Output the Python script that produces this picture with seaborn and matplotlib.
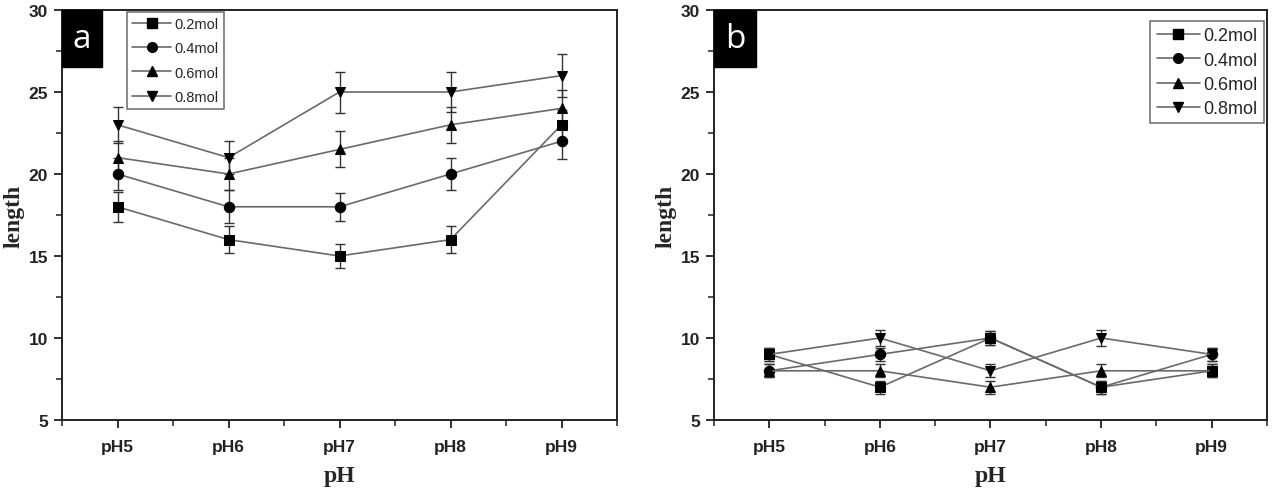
import numpy as np
import pandas as pd
import seaborn as sns
import matplotlib.pyplot as plt
from matplotlib.lines import Line2D
from matplotlib.patches import Rectangle
from matplotlib.ticker import MultipleLocator

ph_labels = ["pH5", "pH6", "pH7", "pH8", "pH9"]
series_names = ["0.2mol", "0.4mol", "0.6mol", "0.8mol"]

a_02 = [18, 16, 15, 16, 23]
a_04 = [20, 18, 18, 20, 22]
a_06 = [21, 20, 21.5, 23, 24]
a_08 = [23, 21, 25, 25, 26]
a_err_02 = [0.9, 0.8, 0.75, 0.8, 0.9]
a_err_04 = [1.0, 1.0, 0.85, 1.0, 1.1]
a_err_06 = [1.0, 1.0, 1.1, 1.1, 1.1]
a_err_08 = [1.1, 1.0, 1.25, 1.2, 1.3]

b_02 = [9, 7, 10, 7, 8]
b_04 = [8, 9, 10, 7, 9]
b_06 = [8, 8, 7, 8, 8]
b_08 = [9, 10, 8, 10, 9]
b_err_02 = [0.4, 0.4, 0.4, 0.4, 0.4]
b_err_04 = [0.4, 0.4, 0.4, 0.4, 0.4]
b_err_06 = [0.4, 0.4, 0.4, 0.4, 0.4]
b_err_08 = [0.4, 0.5, 0.4, 0.5, 0.4]

markers = ["s", "o", "^", "v"]
line_color = "#6a6a6a"

sns.set_theme(style="white")
plt.rcParams["font.family"] = ["Liberation Sans", "DejaVu Sans"]

W, H = 1277, 489
fig = plt.figure(figsize=(W / 100, H / 100), dpi=100)
ax_a = fig.add_axes([62 / W, 1 - 421 / H, 555 / W, 410 / H])
ax_b = fig.add_axes([714 / W, 1 - 421 / H, 553 / W, 410 / H])


def make_df(vals, errs):
    rows = []
    for name, v, e in zip(series_names, vals, errs):
        for lab, yv, ev in zip(ph_labels, v, e):
            rows.append({"pH": lab, "length": yv, "err": ev, "conc": name})
    return pd.DataFrame(rows)


def draw(ax, ax_w_px, vals, errs, letter, box_w_px, legend_kw, legend_fs, legend_hl, legend_ls):
    df = make_df(vals, errs)
    for name in series_names:
        sub = df[df["conc"] == name]
        ax.errorbar(sub["pH"], sub["length"], yerr=sub["err"], fmt="none",
                    ecolor="#333333", elinewidth=1.0, capsize=3.5, capthick=1.0, zorder=2)
    sns.lineplot(data=df, x="pH", y="length", hue="conc", style="conc",
                 markers=dict(zip(series_names, markers)), dashes=False,
                 palette=[line_color] * 4, markersize=7.5,
                 markerfacecolor="black", markeredgecolor="black",
                 linewidth=1.2, ax=ax, legend=False, zorder=3)
    ax.set_xlim(-0.5, 4.5)
    ax.set_ylim(5, 30)
    ax.yaxis.set_major_locator(MultipleLocator(5))
    ax.yaxis.set_minor_locator(MultipleLocator(2.5))
    ax.xaxis.set_minor_locator(MultipleLocator(0.5))
    ax.tick_params(axis="both", which="major", direction="out", length=6, width=1.3,
                   colors="#222222", labelsize=12.5, left=True, bottom=True)
    ax.tick_params(axis="both", which="minor", direction="out", length=4, width=1.1,
                   colors="#222222", left=True, bottom=True)
    for lab in ax.get_xticklabels() + ax.get_yticklabels():
        lab.set_fontweight("bold")
    ax.tick_params(axis="x", pad=8)
    ax.tick_params(axis="y", pad=4)
    for sp in ax.spines.values():
        sp.set_color("#222222")
        sp.set_linewidth(1.4)
    ax.set_xlabel("pH", fontsize=17, fontweight="bold", family=["Liberation Serif"])
    ax.xaxis.set_label_coords(0.5, -0.11)
    ax.set_ylabel("length", fontsize=17, fontweight="bold", family=["Liberation Serif"])
    ax.yaxis.set_label_coords(-37 / ax_w_px, 0.5)
    bw = box_w_px / ax_w_px
    bh = 57 / 410
    ax.add_patch(Rectangle((0, 1 - bh), bw, bh, transform=ax.transAxes,
                           facecolor="black", edgecolor="black", zorder=6, clip_on=False))
    ax.text(bw / 2, 1 - bh / 2, letter, transform=ax.transAxes, ha="center", va="center",
            fontsize=24, color="white", family=["Open Sans", "DejaVu Sans"], zorder=7)
    handles = [Line2D([0], [0], color=line_color, marker=m, markerfacecolor="black",
                      markeredgecolor="black", markersize=7, linewidth=1.2)
               for m in markers]
    leg = ax.legend(handles, series_names, fontsize=legend_fs, frameon=True,
                    fancybox=False, edgecolor="#444444", handlelength=legend_hl,
                    borderpad=0.35, labelspacing=legend_ls, handletextpad=0.2,
                    borderaxespad=0, **legend_kw)
    leg.get_frame().set_linewidth(1.1)


draw(ax_a, 555, [a_02, a_04, a_06, a_08], [a_err_02, a_err_04, a_err_06, a_err_08], "a", 40,
     dict(loc="upper left", bbox_to_anchor=(65 / 555, 0.995)), 10.5, 2.7, 0.7)
draw(ax_b, 553, [b_02, b_04, b_06, b_08], [b_err_02, b_err_04, b_err_06, b_err_08], "b", 42,
     dict(loc="upper right", bbox_to_anchor=(0.995, 0.973)), 13, 2.4, 0.4)

fig.savefig("out.png", dpi=100)
